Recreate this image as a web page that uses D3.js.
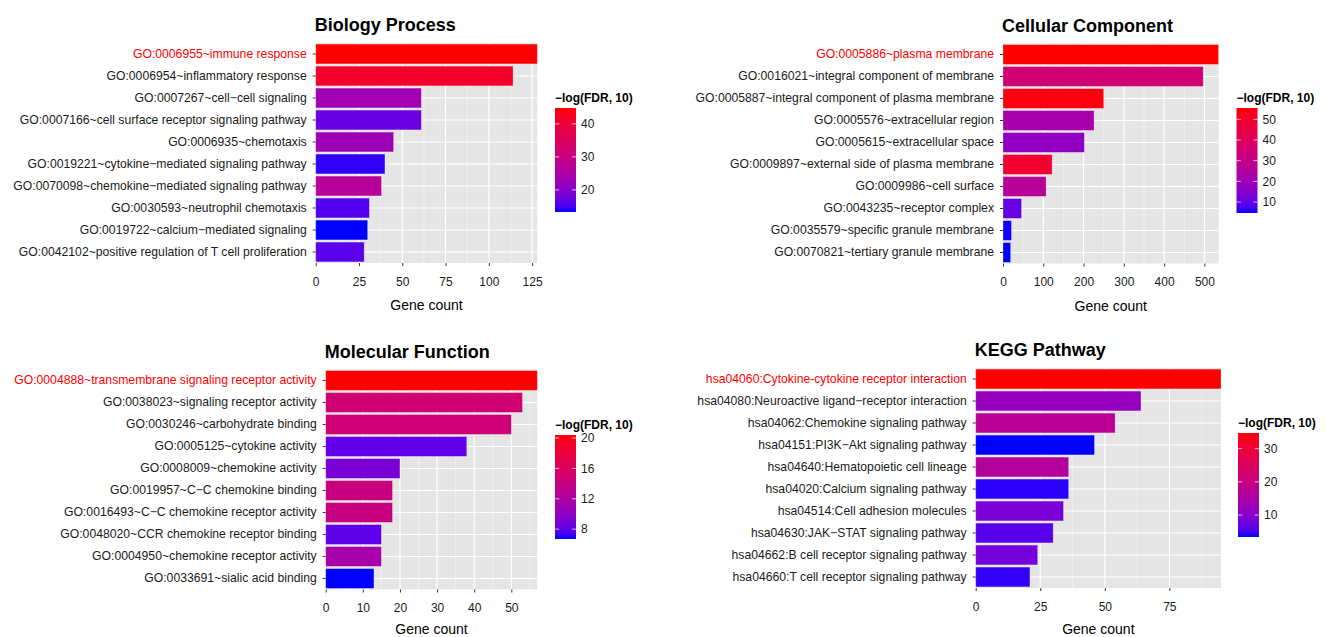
<!DOCTYPE html>
<html>
<head>
<meta charset="utf-8">
<script src="https://cdn.jsdelivr.net/npm/d3@7"></script>
<style>
  body { margin: 0; background: #fff; }
  svg text { font-family: "Liberation Sans", Arial, Helvetica, sans-serif; }
</style>
</head>
<body>
<svg width="1326" height="637"></svg>
<script>
// ---- data ----
const bpTerms = [
  "GO:0006955~immune response",
  "GO:0006954~inflammatory response",
  "GO:0007267~cell\u2212cell signaling",
  "GO:0007166~cell surface receptor signaling pathway",
  "GO:0006935~chemotaxis",
  "GO:0019221~cytokine\u2212mediated signaling pathway",
  "GO:0070098~chemokine\u2212mediated signaling pathway",
  "GO:0030593~neutrophil chemotaxis",
  "GO:0019722~calcium\u2212mediated signaling",
  "GO:0042102~positive regulation of T cell proliferation"
];
const bpCounts = [128, 114, 61, 61, 45, 40, 38, 31, 30, 28];
const bpFdr = [44.8, 41.5, 23.5, 17, 23, 14, 27, 15.5, 13.3, 16];
const bpTicks = [0, 25, 50, 75, 100, 125];
const bpLegTicks = [20, 30, 40];

const ccTerms = [
  "GO:0005886~plasma membrane",
  "GO:0016021~integral component of membrane",
  "GO:0005887~integral component of plasma membrane",
  "GO:0005576~extracellular region",
  "GO:0005615~extracellular space",
  "GO:0009897~external side of plasma membrane",
  "GO:0009986~cell surface",
  "GO:0043235~receptor complex",
  "GO:0035579~specific granule membrane",
  "GO:0070821~tertiary granule membrane"
];
const ccCounts = [535, 497, 250, 226, 202, 122, 107, 46, 21, 19];
const ccFdr = [55.5, 35, 54, 22.5, 17.5, 49.5, 27.5, 10.8, 5, 4.7];
const ccTicks = [0, 100, 200, 300, 400, 500];
const ccLegTicks = [10, 20, 30, 40, 50];

const mfTerms = [
  "GO:0004888~transmembrane signaling receptor activity",
  "GO:0038023~signaling receptor activity",
  "GO:0030246~carbohydrate binding",
  "GO:0005125~cytokine activity",
  "GO:0008009~chemokine activity",
  "GO:0019957~C\u2212C chemokine binding",
  "GO:0016493~C\u2212C chemokine receptor activity",
  "GO:0048020~CCR chemokine receptor binding",
  "GO:0004950~chemokine receptor activity",
  "GO:0033691~sialic acid binding"
];
const mfCounts = [57, 53, 50, 38, 20, 18, 18, 15, 15, 13];
const mfFdr = [20.4, 14.9, 14.8, 8.1, 9, 14.2, 14.1, 8, 11.5, 6.7];
const mfTicks = [0, 10, 20, 30, 40, 50];
const mfLegTicks = [8, 12, 16, 20];

const keggTerms = [
  "hsa04060:Cytokine-cytokine receptor interaction",
  "hsa04080:Neuroactive ligand\u2212receptor interaction",
  "hsa04062:Chemokine signaling pathway",
  "hsa04151:PI3K\u2212Akt signaling pathway",
  "hsa04640:Hematopoietic cell lineage",
  "hsa04020:Calcium signaling pathway",
  "hsa04514:Cell adhesion molecules",
  "hsa04630:JAK\u2212STAT signaling pathway",
  "hsa04662:B cell receptor signaling pathway",
  "hsa04660:T cell receptor signaling pathway"
];
const keggCounts = [95, 64, 54, 46, 36, 36, 34, 30, 24, 21];
const keggFdr = [34.7, 11.9, 17.5, 3.4, 16.5, 4, 8.7, 6, 8.1, 4.3];
const keggTicks = [0, 25, 50, 75];
const keggLegTicks = [10, 20, 30];

// ---- layout ----
const svg = d3.select("svg");

const panels = [
  {title: "Biology Process", terms: bpTerms, counts: bpCounts, fdr: bpFdr, ticks: bpTicks, legTicks: bpLegTicks,
   x0: 315.7, x1: 537.3, y0: 43, y1: 263, lx: 555, ly0: 108, ly1: 212},
  {title: "Cellular Component", terms: ccTerms, counts: ccCounts, fdr: ccFdr, ticks: ccTicks, legTicks: ccLegTicks,
   x0: 1003, x1: 1218.5, y0: 43.5, y1: 263.5, lx: 1236.5, ly0: 108, ly1: 213},
  {title: "Molecular Function", terms: mfTerms, counts: mfCounts, fdr: mfFdr, ticks: mfTicks, legTicks: mfLegTicks,
   x0: 325.7, x1: 537.3, y0: 369.5, y1: 589.5, lx: 555, ly0: 435, ly1: 539},
  {title: "KEGG Pathway", terms: keggTerms, counts: keggCounts, fdr: keggFdr, ticks: keggTicks, legTicks: keggLegTicks,
   x0: 975.7, x1: 1221, y0: 368, y1: 588, lx: 1238, ly0: 433, ly1: 537}
];

panels.forEach((p, i) => drawPanel(p, i));

function drawPanel(p, idx) {
  const g = svg.append("g");
  const rows = p.terms.map((t, i) => ({term: t, count: p.counts[i], fdr: p.fdr[i]}));

  const x = d3.scaleLinear().domain([0, d3.max(p.counts)]).range([p.x0, p.x1]);
  const y = d3.scaleBand().domain(p.terms).range([p.y0, p.y1])
              .paddingInner(0.1).paddingOuter(0.05);
  const color = d3.scaleLinear().domain(d3.extent(p.fdr)).range(["#0000ff", "#ff0000"])
                  .interpolate(d3.interpolateLab);

  // panel background
  g.append("rect")
    .attr("x", p.x0).attr("y", p.y0)
    .attr("width", p.x1 - p.x0).attr("height", p.y1 - p.y0)
    .attr("fill", "#e5e5e5");

  // minor grid
  const step = p.ticks[1] - p.ticks[0];
  const minor = d3.range(step / 2, x.domain()[1], step);
  g.append("g").selectAll("line").data(minor).enter().append("line")
    .attr("x1", d => x(d)).attr("x2", d => x(d))
    .attr("y1", p.y0).attr("y2", p.y1)
    .attr("stroke", "#f5f5f5").attr("stroke-width", 0.6);

  // major grid
  g.append("g").selectAll("line").data(p.ticks).enter().append("line")
    .attr("x1", d => x(d)).attr("x2", d => x(d))
    .attr("y1", p.y0).attr("y2", p.y1)
    .attr("stroke", "#fff").attr("stroke-width", 1.2);
  g.append("g").selectAll("line").data(p.terms).enter().append("line")
    .attr("x1", p.x0).attr("x2", p.x1)
    .attr("y1", d => y(d) + y.bandwidth() / 2).attr("y2", d => y(d) + y.bandwidth() / 2)
    .attr("stroke", "#fff").attr("stroke-width", 1.2);

  // bars
  g.append("g").selectAll("rect").data(rows).enter().append("rect")
    .attr("x", x(0))
    .attr("y", d => y(d.term))
    .attr("width", d => x(d.count) - x(0))
    .attr("height", y.bandwidth())
    .attr("fill", d => color(d.fdr))
    .attr("stroke", "rgba(255,255,255,0.35)")
    .attr("stroke-width", 0.8);

  // y axis
  const yAxis = g.append("g")
    .attr("transform", `translate(${p.x0},0)`)
    .call(d3.axisLeft(y).tickSize(3).tickPadding(6));
  yAxis.select(".domain").remove();
  yAxis.selectAll(".tick line").attr("stroke", "#333");
  yAxis.selectAll(".tick text")
    .attr("font-size", 12.2)
    .attr("fill", (d, i) => i === 0 ? "#ff0000" : "#1a1a1a");

  // x axis
  const xAxis = g.append("g")
    .attr("transform", `translate(0,${p.y1})`)
    .call(d3.axisBottom(x).tickValues(p.ticks).tickSize(3).tickPadding(11).tickFormat(d3.format("d")));
  xAxis.select(".domain").remove();
  xAxis.selectAll(".tick line").attr("stroke", "#333");
  xAxis.selectAll(".tick text").attr("font-size", 12).attr("fill", "#1a1a1a");

  // titles
  g.append("text")
    .attr("x", p.x0 - 1).attr("y", p.y0 - 12)
    .attr("font-size", 18).attr("font-weight", "bold").attr("fill", "#000")
    .text(p.title);
  g.append("text")
    .attr("x", (p.x0 + p.x1) / 2).attr("y", Math.min(p.y1 + 47, 634))
    .attr("text-anchor", "middle")
    .attr("font-size", 14).attr("fill", "#000")
    .text("Gene count");

  // colour bar legend
  const lw = 21;
  const ls = d3.scaleLinear().domain(d3.extent(p.fdr)).range([p.ly1, p.ly0]);
  const gradId = "grad" + idx;
  const grad = svg.append("defs").append("linearGradient")
    .attr("id", gradId).attr("x1", 0).attr("y1", 1).attr("x2", 0).attr("y2", 0);
  d3.range(0, 1.0001, 0.05).forEach(t => {
    grad.append("stop").attr("offset", t)
      .attr("stop-color", color(color.domain()[0] + t * (color.domain()[1] - color.domain()[0])));
  });
  g.append("rect")
    .attr("x", p.lx).attr("y", p.ly0)
    .attr("width", lw).attr("height", p.ly1 - p.ly0)
    .attr("fill", `url(#${gradId})`);
  const lt = g.append("g").selectAll("g").data(p.legTicks).enter().append("g");
  lt.append("line")
    .attr("x1", p.lx).attr("x2", p.lx + lw * 0.2)
    .attr("y1", d => ls(d)).attr("y2", d => ls(d))
    .attr("stroke", "rgba(255,255,255,0.7)");
  lt.append("line")
    .attr("x1", p.lx + lw * 0.8).attr("x2", p.lx + lw)
    .attr("y1", d => ls(d)).attr("y2", d => ls(d))
    .attr("stroke", "rgba(255,255,255,0.7)");
  lt.append("text")
    .attr("x", p.lx + lw + 5).attr("y", d => ls(d))
    .attr("dy", "0.35em")
    .attr("font-size", 12).attr("fill", "#1a1a1a")
    .text(d => d);
  g.append("text")
    .attr("x", p.lx).attr("y", p.ly0 - 6)
    .attr("font-size", 12).attr("font-weight", "bold").attr("fill", "#000")
    .text("\u2212log(FDR, 10)");
}
</script>
</body>
</html>
